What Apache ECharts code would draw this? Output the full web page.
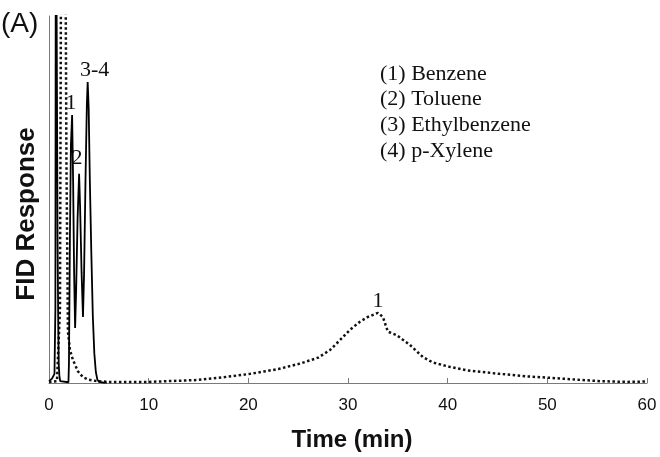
<!DOCTYPE html>
<html>
<head>
<meta charset="utf-8">
<script src="https://cdn.jsdelivr.net/npm/echarts@6/dist/echarts.min.js"></script>
<style>
	html, body { margin: 0; padding: 0; background: #fff; }
	#main { width: 660px; height: 457px; }
</style>
</head>
<body>
<div id="main"></div>
<script>
// solid trace (early run)
var solidTime = [0, 0.3, 0.55, 0.64, 0.69, 0.8, 0.86, 0.93, 0.98, 1.04, 1.12, 1.3, 1.95, 2.0, 2.1, 2.2, 2.32, 2.42, 2.52, 2.62, 2.72, 2.87, 3.02, 3.12, 3.27, 3.41, 3.52, 3.66, 3.8, 3.88, 3.98, 4.1, 4.25, 4.4, 4.55, 4.7, 4.85, 5.0, 5.5, 5.8];
var solidResp = [0.5, 1.2, 2.5, 20, 150, 150, 40, 15, 5, 2, 0.5, 0.2, 0.2, 5, 40, 65, 73, 55, 30, 15, 25, 45, 57, 48, 30, 18, 30, 55, 76, 82, 75, 55, 35, 18, 8, 3, 1, 0.3, 0.1, 0.1];
// dotted trace (long run)
var dotTime = [0, 0.8, 1.0, 1.1, 1.25, 1.6, 1.75, 1.9, 2.1, 2.4, 2.9, 3.4, 4.0, 4.8, 6, 10, 14.8, 17, 20.2, 23, 25.2, 27, 28.2, 29.2, 30.2, 31.2, 32, 33, 33.5, 34, 34.9, 35.5, 36.2, 37.5, 38.5, 40.2, 42, 45.2, 48, 50.3, 53, 55.3, 58, 60];
var dotResp = [0.3, 0.5, 1, 20, 150, 150, 60, 14, 9, 6.3, 3.2, 1.6, 0.9, 0.5, 0.3, 0.3, 0.8, 1.4, 2.5, 3.8, 5.3, 6.9, 9, 11.7, 14.5, 16.7, 18, 19.1, 18, 14, 13, 11.8, 10.4, 7.1, 5.6, 4.4, 3.4, 2.5, 1.8, 1.4, 0.9, 0.5, 0.3, 0.4];
// peak labels
var solidPeakNames = ['1', '2', '3-4'];
var solidPeakTime = [2.32, 3.02, 3.88];
var solidPeakResp = [73, 57, 82];
var dotPeakNames = ['1'];
var dotPeakTime = [33];
var dotPeakResp = [19.1];
var xTicks = [0, 10, 20, 30, 40, 50, 60];
var legendLines = ['(1) Benzene', '(2) Toluene', '(3) Ethylbenzene', '(4) p-Xylene'];

function pairs(xs, ys){
	var res = [];
	for (var i = 0; i < xs.length; i++) {
		res.push([xs[i], ys[i]]);
	}
	return res;
}

function marks(names, xs, ys, offs){
	var res = [];
	for (var i = 0; i < names.length; i++) {
		res.push({
			name: names[i],
			coord: [xs[i], ys[i]],
			label: { offset: offs[i] || [0, 0] }
		});
	}
	return res;
}

var peakLabel = {
	show: true,
	position: 'top',
	distance: 1,
	formatter: '{b}',
	color: '#111',
	fontFamily: '"Liberation Serif", "Times New Roman", serif',
	fontSize: 22
};

var legendGraphic = [];
for (var i = 0; i < legendLines.length; i++) {
	legendGraphic.push({
		type: 'text',
		left: 380,
		top: 63 + i * 25.7,
		style: {
			text: legendLines[i],
			fill: '#111',
			font: '22px "Liberation Serif", "Times New Roman", serif'
		}
	});
}

var myChart = echarts.init(document.getElementById('main'));
var option = {
	backgroundColor: '#fff',
	animation: false,
	grid: { left: 49, right: 13, top: 16, bottom: 74 },
	xAxis: {
		type: 'value',
		min: 0,
		max: 60,
		interval: 10,
		name: 'Time (min)',
		nameLocation: 'middle',
		nameGap: 45,
		nameTextStyle: {
			color: '#111',
			fontFamily: '"Liberation Sans", Arial, sans-serif',
			fontWeight: 'bold',
			fontSize: 24,
			padding: [0, 0, 0, 8]
		},
		axisLine: { lineStyle: { color: '#7a7a7a', width: 1 } },
		axisTick: { inside: true, length: 5, lineStyle: { color: '#7a7a7a' } },
		axisLabel: {
			margin: 14,
			color: '#111',
			fontFamily: '"Liberation Sans", Arial, sans-serif',
			fontSize: 17,
			customValues: xTicks
		},
		splitLine: { show: false }
	},
	yAxis: {
		type: 'value',
		min: 0,
		max: 100,
		axisLine: { show: true, lineStyle: { color: '#7a7a7a', width: 1 } },
		axisTick: { show: false },
		axisLabel: { show: false },
		splitLine: { show: false }
	},
	graphic: [
		{
			type: 'text',
			left: 1,
			top: 10,
			style: {
				text: '(A)',
				fill: '#111',
				font: '28px "Liberation Sans", Arial, sans-serif'
			}
		},
		{
			type: 'text',
			x: 27,
			y: 214,
			rotation: Math.PI / 2,
			style: {
				text: 'FID Response',
				fill: '#111',
				align: 'center',
				verticalAlign: 'middle',
				font: 'bold 26px "Liberation Sans", Arial, sans-serif'
			}
		}
	].concat(legendGraphic),
	series: [
		{
			name: 'dotted',
			type: 'line',
			data: pairs(dotTime, dotResp),
			showSymbol: false,
			smooth: false,
			clip: true,
			lineStyle: { color: '#111', width: 2.5, type: [2.5, 2.5] },
			markPoint: {
				symbol: 'circle',
				symbolSize: 0,
				label: peakLabel,
				data: marks(dotPeakNames, dotPeakTime, dotPeakResp, [[0, 0]])
			},
			z: 2
		},
		{
			name: 'solid',
			type: 'line',
			data: pairs(solidTime, solidResp),
			showSymbol: false,
			smooth: false,
			clip: true,
			lineStyle: { color: '#000', width: 1.8 },
			markPoint: {
				symbol: 'circle',
				symbolSize: 0,
				label: peakLabel,
				data: marks(solidPeakNames, solidPeakTime, solidPeakResp, [[-1, 0], [-2, -4], [7, 0]])
			},
			z: 3
		}
	]
};
myChart.setOption(option);
</script>
</body>
</html>
